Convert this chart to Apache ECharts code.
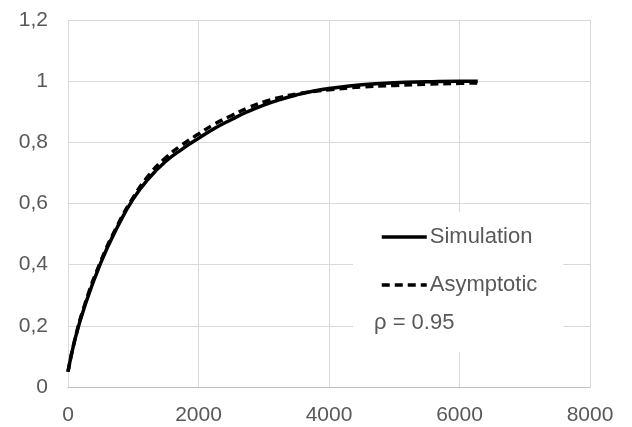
<!DOCTYPE html>
<html>
<head>
<meta charset="utf-8">
<script src="https://cdn.jsdelivr.net/npm/echarts@6/dist/echarts.min.js"></script>
<style>
  html, body { margin: 0; padding: 0; background: #fff; }
  #chart { width: 632px; height: 427px; }
</style>
</head>
<body>
<div id="chart"></div>
<script>
// values
const xs = [0, 100, 250, 500, 750, 1000, 1250, 1500, 1750, 2000, 2250, 2500, 2750, 3000, 3250, 3500, 3750, 4000, 4500, 5000, 5500, 6000, 6280];
const simulation = [0.05, 0.15, 0.26, 0.405, 0.52, 0.615, 0.685, 0.738, 0.778, 0.813, 0.846, 0.874, 0.9, 0.922, 0.94, 0.955, 0.967, 0.976, 0.988, 0.995, 0.998, 1.0, 1.0];
const asymptotic = [0.05, 0.15, 0.265, 0.41, 0.525, 0.62, 0.695, 0.75, 0.792, 0.827, 0.86, 0.887, 0.912, 0.932, 0.947, 0.958, 0.966, 0.972, 0.981, 0.986, 0.99, 0.993, 0.994];
const seriesNames = ['Simulation', 'Asymptotic'];
const note = 'ρ = 0.95';

const pairs = (ys) => xs.map((x, i) => [x, ys[i]]);

let dom = document.getElementById('chart');
let myChart = echarts.init(dom);

const gray = '#595959';
const font = 'Liberation Sans, Arial, sans-serif';

let options = {
    animation: false,
    backgroundColor: '#fff',
    grid: { left: 68, right: 42, top: 20, bottom: 40 },
    title: {
        text: note,
        left: 370,
        top: 310,
        padding: [2, 4],
        backgroundColor: '#fff',
        textStyle: { fontSize: 22, fontWeight: 'normal', color: gray, fontFamily: font }
    },
    legend: {
        orient: 'vertical',
        left: 353,
        top: 212,
        padding: [14, 26, 56, 27],
        backgroundColor: '#fff',
        itemWidth: 45,
        itemHeight: 20,
        itemGap: 26,
        itemStyle: { opacity: 0 },
        lineStyle: { width: 3.5 },
        textStyle: { fontSize: 22, color: gray, fontFamily: font, padding: [0, 0, 0, -2] },
        data: seriesNames
    },
    xAxis: {
        type: 'value',
        min: 0,
        max: 8000,
        interval: 2000,
        axisLine: { show: true, lineStyle: { color: '#bfbfbf', width: 1 } },
        axisTick: { show: false },
        axisLabel: { color: gray, fontSize: 21, fontFamily: font, margin: 18, formatter: (v) => String(v) },
        splitLine: { show: true, lineStyle: { color: '#d9d9d9', width: 1 } }
    },
    yAxis: {
        type: 'value',
        min: 0,
        max: 1.2,
        interval: 0.2,
        axisLine: { show: false },
        axisTick: { show: false },
        axisLabel: {
            color: gray, fontSize: 21, fontFamily: font, margin: 20,
            formatter: (v) => String(Math.round(v * 10) / 10).replace('.', ',')
        },
        splitLine: { show: true, lineStyle: { color: '#d9d9d9', width: 1 } }
    },
    series: [
        {
            name: seriesNames[0],
            type: 'line',
            smooth: true,
            showSymbol: false,
            symbol: 'none',
            itemStyle: { color: '#000' },
            lineStyle: { color: '#000', width: 3.5 },
            data: pairs(simulation),
            z: 3
        },
        {
            name: seriesNames[1],
            type: 'line',
            smooth: true,
            showSymbol: false,
            symbol: 'none',
            itemStyle: { color: '#000' },
            lineStyle: { color: '#000', width: 3.5, type: [8, 5] },
            data: pairs(asymptotic),
            z: 2
        }
    ]
};

myChart.setOption(options);
</script>
</body>
</html>
